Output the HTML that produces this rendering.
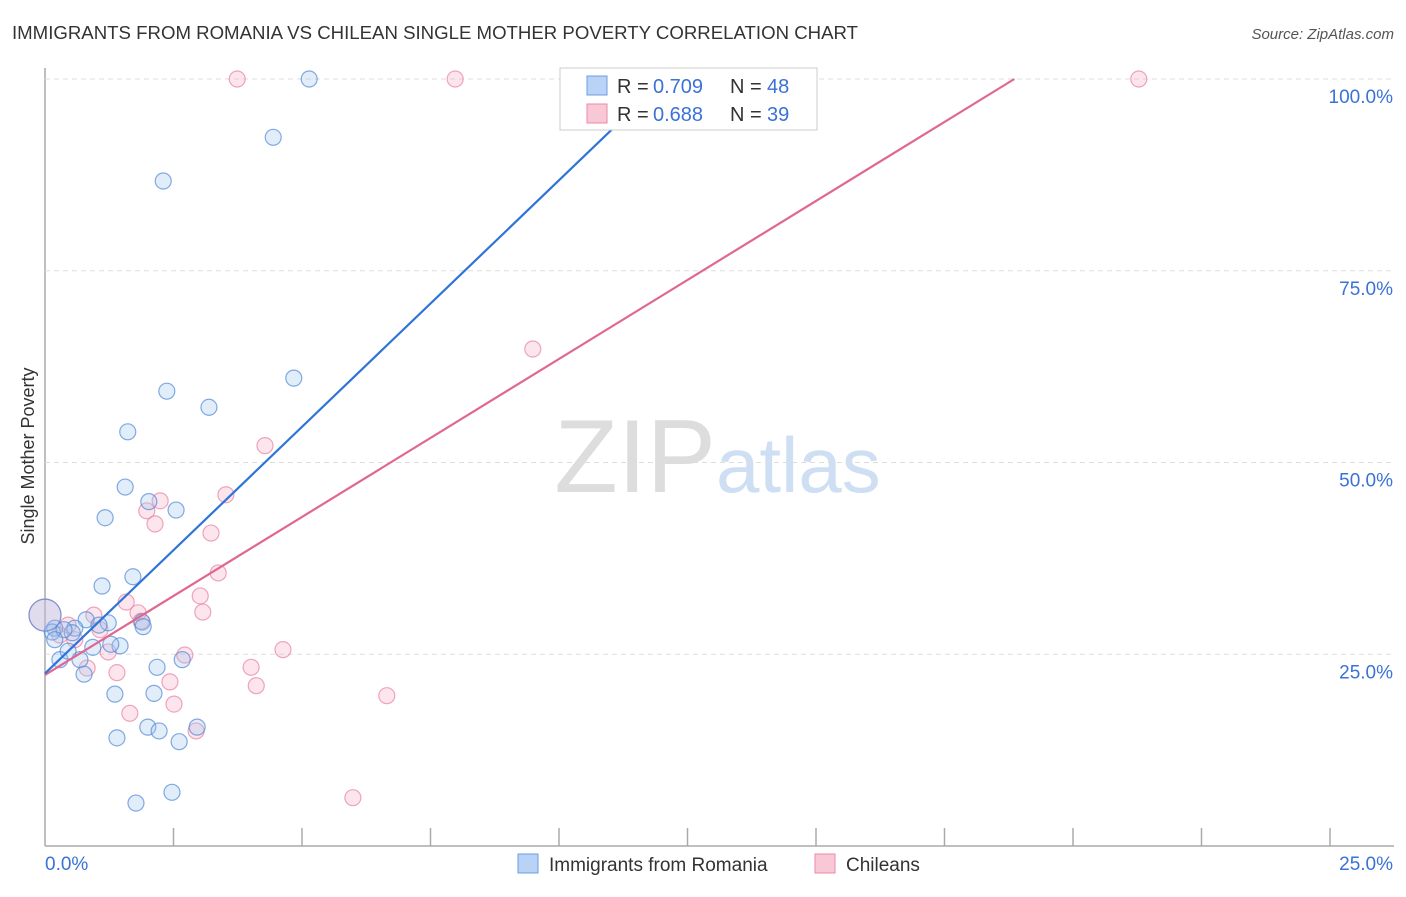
<!DOCTYPE html>
<html><head><meta charset="utf-8"><style>
body{margin:0;background:#fff;font-family:"Liberation Sans",sans-serif}
svg text{font-family:"Liberation Sans",sans-serif}
</style></head><body>
<svg id="c" width="1406" height="892" viewBox="0 0 1406 892">
<text x="12" y="39" font-size="18" fill="#333" textLength="846" lengthAdjust="spacingAndGlyphs">IMMIGRANTS FROM ROMANIA VS CHILEAN SINGLE MOTHER POVERTY CORRELATION CHART</text>
<text x="1394" y="39" font-size="15" fill="#555" font-style="italic" text-anchor="end">Source: ZipAtlas.com</text>
<text x="716" y="492" font-size="104" fill="#ddd" text-anchor="end" font-family="Liberation Serif">ZIP</text>
<text x="716" y="492" font-size="78" fill="#cfdff3">atlas</text>
<text transform="translate(34,456) rotate(-90)" font-size="18" fill="#333" text-anchor="middle">Single Mother Poverty</text>
<g id="grid"></g><g id="pts"></g><g id="lines"></g>
<g>
<rect x="560" y="68" width="257" height="62" fill="#fff" stroke="#ccc"/>
<rect x="587" y="76" width="20" height="19" fill="#b8d3f5" stroke="#6d9de0"/>
<rect x="587" y="104" width="20" height="19" fill="#f9c8d6" stroke="#e88aa6"/>
<text y="93" font-size="20" fill="#333"><tspan x="617">R = </tspan><tspan x="653" fill="#3a72d6">0.709</tspan><tspan x="730">N = </tspan><tspan x="767" fill="#3a72d6">48</tspan></text>
<text y="121" font-size="20" fill="#333"><tspan x="617">R = </tspan><tspan x="653" fill="#3a72d6">0.688</tspan><tspan x="730">N = </tspan><tspan x="767" fill="#3a72d6">39</tspan></text>
</g>
<g>
<rect x="518" y="854" width="20" height="19" fill="#b8d3f5" stroke="#6d9de0"/>
<text x="549" y="871" font-size="19" fill="#333">Immigrants from Romania</text>
<rect x="815" y="854" width="20" height="19" fill="#f9c8d6" stroke="#e88aa6"/>
<text x="846" y="871" font-size="19" fill="#333">Chileans</text>
</g>
</svg>
<script>
const xTicks=[0,2.5,5,7.5,10,12.5,15,17.5,20,22.5,25];
const yTicks=[25,50,75,100];
const yTickLabels=["25.0%","50.0%","75.0%","100.0%"];
const xEndLabels=["0.0%","25.0%"];
const blueX=[5.14,4.44,2.30,4.84,2.37,3.19,1.61,1.56,2.02,2.55,1.17,1.71,1.11,1.89,1.91,0.80,1.23,1.05,0.58,0.19,0.14,0.53,0.29,0.68,0.45,0.93,1.46,1.28,2.18,2.67,0.76,1.36,2.12,2.00,2.22,2.96,1.40,2.61,2.47,1.77,0,0.37,0.19,14.49];
const blueY=[100,92.4,86.7,61.0,59.3,57.2,54.0,46.8,44.9,43.8,42.8,35.1,33.9,29.2,28.6,29.5,29.1,28.8,28.4,28.4,27.9,27.8,24.3,24.3,25.4,25.9,26.1,26.3,23.3,24.3,22.4,19.8,19.9,15.5,15.0,15.5,14.1,13.6,7.0,5.6,30.1,28.2,26.9,100];
const blueR=[8,8,8,8,8,8,8,8,8,8,8,8,8,8,8,8,8,8,8,8,8,8,8,8,8,8,8,8,8,8,8,8,8,8,8,8,8,8,8,8,16,8,8,8];
const pinkX=[3.74,7.98,14.49,21.28,9.49,4.28,3.52,2.24,1.98,2.14,3.23,3.37,1.58,3.02,0.95,1.81,3.07,1.87,2.72,4.01,4.63,1.23,1.40,0.82,2.43,4.11,6.65,2.51,1.65,2.94,5.99,0,0.29,0.58,1.07,0.45];
const pinkY=[100,100,100,100,64.8,52.2,45.8,45.0,43.7,42.0,40.8,35.6,31.8,32.6,30.1,30.4,30.5,29.3,24.9,23.3,25.6,25.3,22.6,23.2,21.4,20.9,19.6,18.5,17.3,15.0,6.3,30.1,27.5,26.9,28.2,28.8];
const pinkR=[8,8,8,8,8,8,8,8,8,8,8,8,8,8,8,8,8,8,8,8,8,8,8,8,8,8,8,8,8,8,8,16,8,8,8,8];
const blueFit=[22.5,6.43];
const pinkFit=[22.3,4.12];
const NS="http://www.w3.org/2000/svg";
const sx=v=>45+v*51.4, sy=v=>846-v*7.67;
function mk(t,a,p){const e=document.createElementNS(NS,t);for(const k in a)e.setAttribute(k,a[k]);document.getElementById(p).appendChild(e);return e;}
let ax=mk('line',{x1:45,y1:68,x2:45,y2:846,stroke:'#aaa','stroke-width':1.5},'grid');


let bx=mk('line',{x1:45,y1:846,x2:1394,y2:846,stroke:'#aaa','stroke-width':1.5},'grid');


xTicks.forEach(t=>{if(t===0)return;const l=mk('line',{x1:sx(t),y1:828,x2:sx(t),y2:846,stroke:'#aaa','stroke-width':1.5},'grid');

});
yTicks.forEach((t,i)=>{const l=mk('line',{x1:45,y1:sy(t),x2:1394,y2:sy(t),stroke:'#ddd','stroke-dasharray':'5,4'},'grid');


const tx=mk('text',{x:1393,y:sy(t)+24,'font-size':19,fill:'#3a72d6','text-anchor':'end'},'grid');tx.textContent=yTickLabels[i];

});
const t0=mk('text',{x:45,y:870,'font-size':19,fill:'#3a72d6'},'grid');t0.textContent=xEndLabels[0];


const t1=mk('text',{x:1393,y:870,'font-size':19,fill:'#3a72d6','text-anchor':'end'},'grid');t1.textContent=xEndLabels[1];


pinkX.forEach((x,i)=>{const c=mk('circle',{cx:sx(x),cy:sy(pinkY[i]),r:pinkR[i],fill:'rgba(246,170,195,0.3)',stroke:'rgba(232,130,160,0.7)','stroke-width':1.2},'pts');

});
blueX.forEach((x,i)=>{const c=mk('circle',{cx:sx(x),cy:sy(blueY[i]),r:blueR[i],fill:'rgba(160,195,240,0.3)',stroke:'rgba(80,135,215,0.7)','stroke-width':1.2},'pts');

});
function fit(f,col,name){const xe=(100-f[0])/f[1];const l=mk('line',{x1:sx(0),y1:sy(f[0]),x2:sx(xe),y2:sy(100),stroke:col,'stroke-width':2.2},'lines');

}
fit(pinkFit,'#e06890','chileans-trend-line');
fit(blueFit,'#2f74d8','romania-trend-line');
</script>
</body></html>
